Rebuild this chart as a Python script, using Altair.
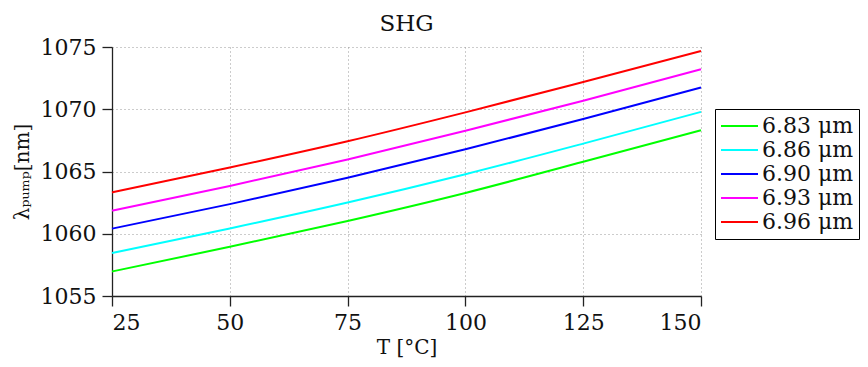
import altair as alt
import pandas as pd

temps = [25, 50, 75, 100, 125, 150]
series_labels = ["6.83 μm", "6.86 μm", "6.90 μm", "6.93 μm", "6.96 μm"]
colors = ["#00ff00", "#00ffff", "#0000ff", "#ff00ff", "#ff0000"]
green = [1056.97, 1058.95, 1061.03, 1063.28, 1065.78, 1068.32]
cyan = [1058.46, 1060.43, 1062.51, 1064.78, 1067.24, 1069.79]
blue = [1060.41, 1062.38, 1064.49, 1066.78, 1069.22, 1071.74]
magenta = [1061.86, 1063.84, 1065.97, 1068.28, 1070.68, 1073.21]
red = [1063.32, 1065.32, 1067.43, 1069.75, 1072.19, 1074.68]

rows = []
for lab, vals in zip(series_labels, [green, cyan, blue, magenta, red]):
    for t, v in zip(temps, vals):
        rows.append({"T": t, "lam": v, "series": lab})
df = pd.DataFrame(rows)

FONT = "DejaVu Serif"

chart = alt.Chart(df).mark_line(strokeWidth=2, interpolate="monotone").encode(
    x=alt.X("T:Q", scale=alt.Scale(domain=[25, 150], nice=False),
            axis=alt.Axis(values=[25, 50, 75, 100, 125, 150], title="T  [°C]",
                          format="d", titlePadding=4)),
    y=alt.Y("lam:Q", scale=alt.Scale(domain=[1055, 1075], nice=False, zero=False),
            axis=alt.Axis(values=[1055, 1060, 1065, 1070, 1075], title="λₚᵤₘₚ[nm]",
                          format="d", titlePadding=8)),
    color=alt.Color("series:N", scale=alt.Scale(domain=series_labels, range=colors),
                    legend=alt.Legend(title=None, orient="none", legendX=603, legendY=62,
                                      symbolType="stroke", symbolSize=1369,
                                      symbolStrokeWidth=2, labelFontSize=22,
                                      labelFont=FONT, labelColor="#111",
                                      strokeColor="black", padding=5,
                                      rowPadding=0, labelOffset=3, clipHeight=24,
                                      fillColor="white")),
).properties(
    width=589, height=249,
    title=alt.TitleParams("SHG", fontSize=23, font=FONT, fontWeight="normal",
                          color="#111", offset=0),
    autosize=alt.AutoSizeParams(type="none"),
    padding={"left": 104, "top": 39, "right": 159, "bottom": 70},
).configure_view(stroke=None).configure_axis(
    labelFont=FONT, labelFontSize=22, labelColor="#111",
    titleFont=FONT, titleFontSize=20, titleFontWeight="normal", titleColor="#111",
    domainColor="#222", domainWidth=1.3, tickColor="#222", tickWidth=1.3, tickSize=10,
    labelPadding=6,
    gridColor="#999", gridDash=[1, 3], gridWidth=1,
).configure_legend(labelFont=FONT).configure_title(font=FONT)

chart.save("out.html", embed_options={"renderer": "svg", "actions": False})
